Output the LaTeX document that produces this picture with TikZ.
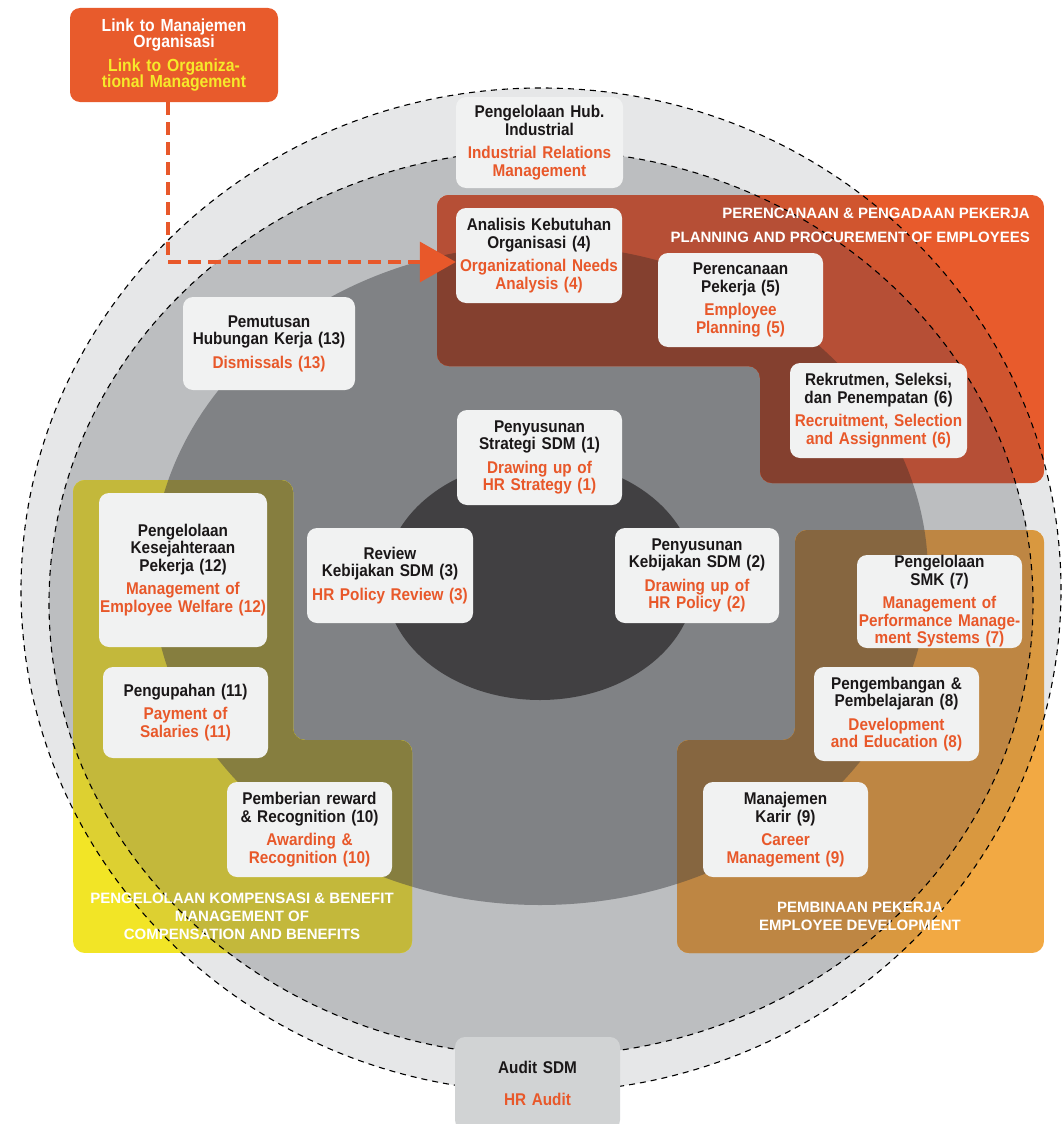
\documentclass[tikz,border=0pt]{standalone}
\usepackage{fontspec}
\setmainfont{Liberation Sans}[FakeStretch=0.9]
\newfontfamily\capsfont{Liberation Sans}
\usepackage{tikz}
\usetikzlibrary{arrows.meta}

\definecolor{boxfill}{HTML}{F1F2F2}
\definecolor{hrorange}{HTML}{E8582A}
\definecolor{hrblack}{HTML}{1A1718}
\definecolor{hryellow}{HTML}{F6E92A}
\definecolor{ringlight}{HTML}{E6E7E8}
\definecolor{ringmid}{HTML}{BCBEC0}
\definecolor{ringdark}{HTML}{808285}
\definecolor{core}{HTML}{414042}
\definecolor{auditfill}{HTML}{D1D3D4}
\definecolor{plan0}{HTML}{E85B2C}
\definecolor{plan1}{HTML}{D0552F}
\definecolor{plan2}{HTML}{B64F36}
\definecolor{plan3}{HTML}{84402F}
\definecolor{comp0}{HTML}{F2E526}
\definecolor{comp1}{HTML}{DDD031}
\definecolor{comp2}{HTML}{C3B83B}
\definecolor{comp3}{HTML}{867E3F}
\definecolor{dev0}{HTML}{F2A943}
\definecolor{dev1}{HTML}{D9983F}
\definecolor{dev2}{HTML}{BE8643}
\definecolor{dev3}{HTML}{866640}

\tikzset{
  hrbox/.style={rectangle, rounded corners=10pt, fill=boxfill, inner sep=0pt, align=center,
    text=hrblack, font=\fontsize{17}{17.5}\selectfont\bfseries},
  boxsize/.style 2 args={minimum width=#1, text width=#1, minimum height=#2},
  paneltext/.style={text=white, inner sep=0pt, font=\capsfont\fontsize{15}{18}\selectfont\bfseries},
  ringline/.style={black, line width=1.1pt, dash pattern=on 6pt off 5pt},
  linkarrow/.style={hrorange, line width=3.5pt, dash pattern=on 13pt off 7pt,
    -{Triangle[length=36pt, width=40pt]}},
  lightring/.style={insert path={(541,590) ellipse [x radius=520pt, y radius=502pt]}},
  midring/.style={insert path={(541,603) ellipse [x radius=492pt, y radius=453pt]}},
  darkring/.style={insert path={(540,575) ellipse [x radius=388pt, y radius=330pt]}},
}
\newcommand{\hrtext}[2]{#1\\[6pt]{\color{hrorange}#2}}

\begin{document}
\begin{tikzpicture}[x=1pt, y=-1pt]
\useasboundingbox (0,0) rectangle (1064,1124);

\fill[ringlight, lightring];
\fill[ringmid, midring];
\fill[ringdark, darkring];
\fill[core] (540,580) ellipse [x radius=155pt, y radius=120pt];

\begin{scope}
\clip[rounded corners=12pt] (437,195) -- (1044,195) -- (1044,483) -- (760,483) -- (760,366) -- (437,366) -- cycle;
\fill[plan0] (437,195) rectangle (1044,483);
\fill[plan1, lightring];
\fill[plan2, midring];
\fill[plan3, darkring];
\end{scope}

\begin{scope}
\clip[rounded corners=12pt] (73,480) -- (293,480) -- (293,740) -- (412,740) -- (412,953) -- (73,953) -- cycle;
\fill[comp0] (73,480) rectangle (412,953);
\fill[comp1, lightring];
\fill[comp2, midring];
\fill[comp3, darkring];
\end{scope}

\begin{scope}
\clip[rounded corners=12pt] (795,530) -- (1044,530) -- (1044,953) -- (677,953) -- (677,740) -- (795,740) -- cycle;
\fill[dev0] (677,530) rectangle (1044,953);
\fill[dev1, lightring];
\fill[dev2, midring];
\fill[dev3, darkring];
\end{scope}

\draw[ringline, lightring];
\draw[ringline, midring];

\node[paneltext, anchor=east, align=right, font=\capsfont\fontsize{15}{24}\selectfont\bfseries] (plantitle) at (1030,225)
  {PERENCANAAN \& PENGADAAN PEKERJA\\PLANNING AND PROCUREMENT OF EMPLOYEES};
\node[paneltext, align=center] (comptitle) at (242,916)
  {PENGELOLAAN KOMPENSASI \& BENEFIT\\MANAGEMENT OF\\COMPENSATION AND BENEFITS};
\node[paneltext, align=center] (devtitle) at (860,916)
  {PEMBINAAN PEKERJA\\EMPLOYEE DEVELOPMENT};

\node[hrbox, fill=plan0, text=white, boxsize={208pt}{94pt}, font=\fontsize{17.5}{16.5}\selectfont\bfseries] (link) at (174,55)
  {Link to Manajemen\\Organisasi\\[7pt]{\color{hryellow}Link to Organiza-\\tional Management}};

\node[hrbox, boxsize={167pt}{91pt}] (hub) at (539.5,142.5) {\hrtext{Pengelolaan Hub.\\Industrial}{Industrial Relations\\Management}};
\node[hrbox, boxsize={166pt}{95pt}] (ana) at (539,255.5) {\hrtext{Analisis Kebutuhan\\Organisasi (4)}{Organizational Needs\\Analysis (4)}};
\node[hrbox, boxsize={165pt}{94pt}] (plan) at (740.5,300) {\hrtext{Perencanaan\\Pekerja (5)}{Employee\\Planning (5)}};
\node[hrbox, boxsize={177pt}{95pt}] (rekrut) at (878.5,410.5) {\hrtext{Rekrutmen, Seleksi,\\dan Penempatan (6)}{Recruitment, Selection\\and Assignment (6)}};
\node[hrbox, boxsize={172pt}{93pt}] (phk) at (269,343.5) {\hrtext{Pemutusan\\Hubungan Kerja (13)}{Dismissals (13)}};
\node[hrbox, boxsize={165pt}{95pt}] (strat) at (539.5,457.5) {\hrtext{Penyusunan\\Strategi SDM (1)}{Drawing up of\\HR Strategy (1)}};
\node[hrbox, boxsize={166pt}{95pt}] (review) at (390,575.5) {\hrtext{Review\\Kebijakan SDM (3)}{HR Policy Review (3)}};
\node[hrbox, boxsize={164pt}{95pt}] (policy) at (697,575.5) {\hrtext{Penyusunan\\Kebijakan SDM (2)}{Drawing up of\\HR Policy (2)}};
\node[hrbox, boxsize={168pt}{154pt}] (welfare) at (183,570) {\hrtext{Pengelolaan\\Kesejahteraan\\Pekerja (12)}{Management of\\Employee Welfare (12)}};
\node[hrbox, boxsize={165pt}{91pt}] (salary) at (185.5,712.5) {\hrtext{Pengupahan (11)}{Payment of\\Salaries (11)}};
\node[hrbox, boxsize={165pt}{95pt}] (reward) at (309.5,829.5) {\hrtext{Pemberian reward\\\& Recognition (10)}{Awarding \&\\Recognition (10)}};
\node[hrbox, boxsize={165pt}{93pt}] (smk) at (939.5,601.5) {\hrtext{Pengelolaan\\SMK (7)}{Management of\\Performance Manage-\\ment Systems (7)}};
\node[hrbox, boxsize={165pt}{94pt}] (learn) at (896.5,714) {\hrtext{Pengembangan \&\\Pembelajaran (8)}{Development\\and Education (8)}};
\node[hrbox, boxsize={165pt}{95pt}] (career) at (785.5,829.5) {\hrtext{Manajemen\\Karir (9)}{Career\\Management (9)}};
\node[hrbox, fill=auditfill, boxsize={165pt}{93pt}] (audit) at (537.5,1083.5) {Audit SDM\\[14pt]{\color{hrorange}HR Audit}};

\draw[linkarrow] ([xshift=-6pt]link.south) |- ([yshift=-6.5pt]ana.west);
\end{tikzpicture}
\end{document}
